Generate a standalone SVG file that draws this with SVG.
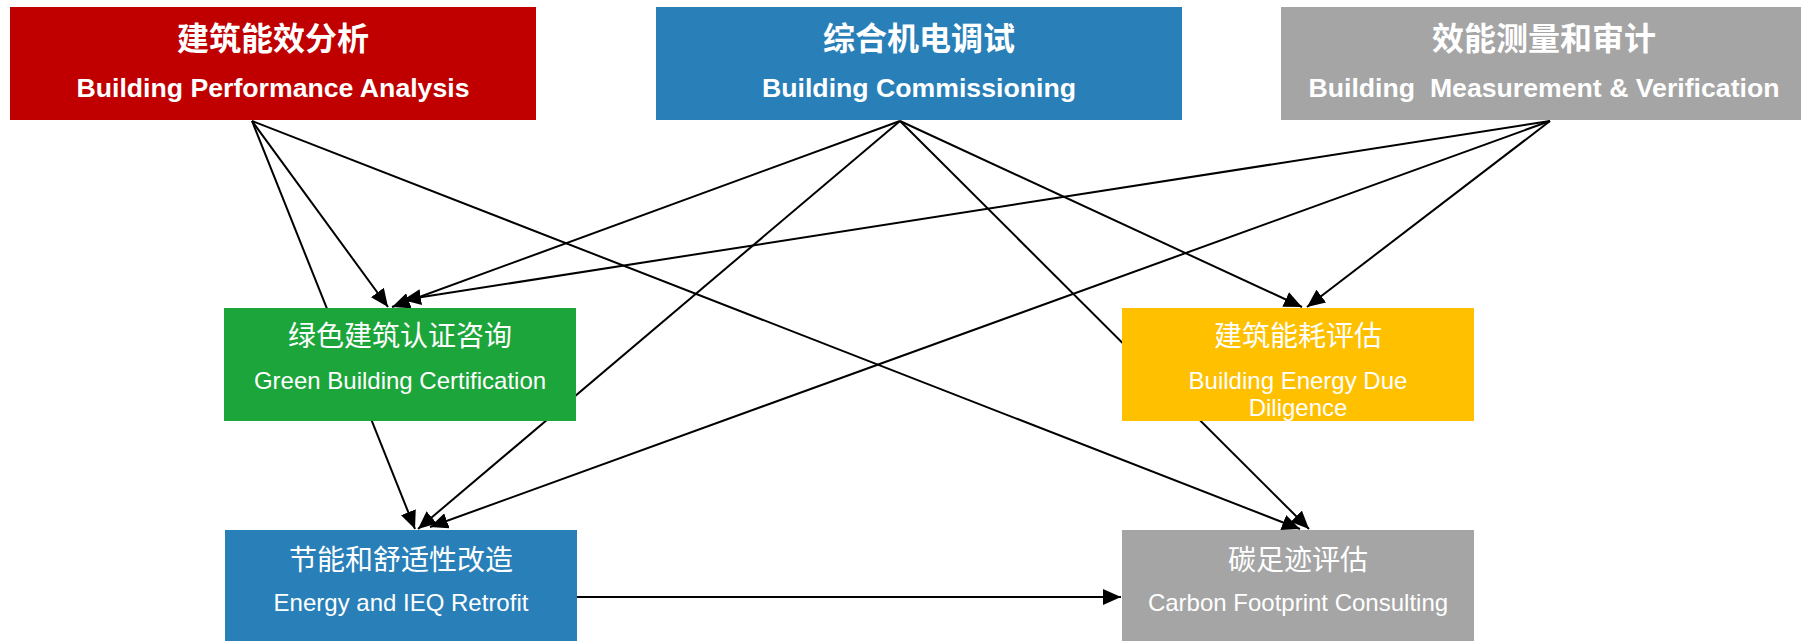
<svg xmlns="http://www.w3.org/2000/svg" width="1801" height="641" viewBox="0 0 1801 641">
<style>
  .t { fill: #FFFFFF; font-family: "Liberation Sans", "Noto Sans CJK SC", sans-serif; text-anchor: middle; }
  .hz { font-size: 32px; font-weight: bold; }
  .he { font-size: 26.67px; font-weight: bold; }
  .mz { font-size: 28px; }
  .me { font-size: 24px; }
  .c { stroke: #000000; stroke-width: 2; fill: none; marker-end: url(#ah); }
</style>
<defs>
  <marker id="ah" markerWidth="9" markerHeight="8" refX="9" refY="4" orient="auto" markerUnits="strokeWidth">
    <path d="M0,0 L9,4 L0,8 Z" fill="#000000"/>
  </marker>
</defs>
<rect width="1801" height="641" fill="#FFFFFF"/>
<g id="connectors">
  <line class="c" x1="252" y1="121" x2="388" y2="307"/>
  <line class="c" x1="252" y1="121" x2="415" y2="529"/>
  <line class="c" x1="252" y1="121" x2="1300" y2="529"/>
  <line class="c" x1="900" y1="121" x2="392" y2="307"/>
  <line class="c" x1="900" y1="121" x2="418" y2="529"/>
  <line class="c" x1="900" y1="121" x2="1302" y2="307"/>
  <line class="c" x1="900" y1="121" x2="1309" y2="529"/>
  <line class="c" x1="1550" y1="121" x2="403" y2="300"/>
  <line class="c" x1="1550" y1="121" x2="430" y2="527"/>
  <line class="c" x1="1550" y1="121" x2="1307" y2="307"/>
  <line class="c" x1="577" y1="597" x2="1121" y2="597"/>
</g>
<g id="node-analysis">
  <rect x="10" y="7" width="526" height="113" fill="#C00000"/>
  <text class="t hz" x="273" y="50">建筑能效分析</text>
  <text class="t he" x="273" y="97">Building Performance Analysis</text>
</g>
<g id="node-commissioning">
  <rect x="656" y="7" width="526" height="113" fill="#2980B9"/>
  <text class="t hz" x="919" y="50">综合机电调试</text>
  <text class="t he" x="919" y="97">Building Commissioning</text>
</g>
<g id="node-mv">
  <rect x="1281" y="7" width="526" height="113" fill="#A5A5A5"/>
  <text class="t hz" x="1544" y="50">效能测量和审计</text>
  <text class="t he" x="1544" y="97" xml:space="preserve">Building  Measurement &amp; Verification</text>
</g>
<g id="node-green">
  <rect x="224" y="308" width="352" height="113" fill="#1BA53A"/>
  <text class="t mz" x="400" y="346">绿色建筑认证咨询</text>
  <text class="t me" x="400" y="389">Green Building Certification</text>
</g>
<g id="node-duediligence">
  <rect x="1122" y="308" width="352" height="113" fill="#FFC000"/>
  <text class="t mz" x="1298" y="346">建筑能耗评估</text>
  <text class="t me" x="1298" y="389">Building Energy Due</text>
  <text class="t me" x="1298" y="416">Diligence</text>
</g>
<g id="node-retrofit">
  <rect x="225" y="530" width="352" height="113" fill="#2980B9"/>
  <text class="t mz" x="401" y="570">节能和舒适性改造</text>
  <text class="t me" x="401" y="611">Energy and IEQ Retrofit</text>
</g>
<g id="node-carbon">
  <rect x="1122" y="530" width="352" height="113" fill="#A5A5A5"/>
  <text class="t mz" x="1298" y="570">碳足迹评估</text>
  <text class="t me" x="1298" y="611">Carbon Footprint Consulting</text>
</g>
</svg>
